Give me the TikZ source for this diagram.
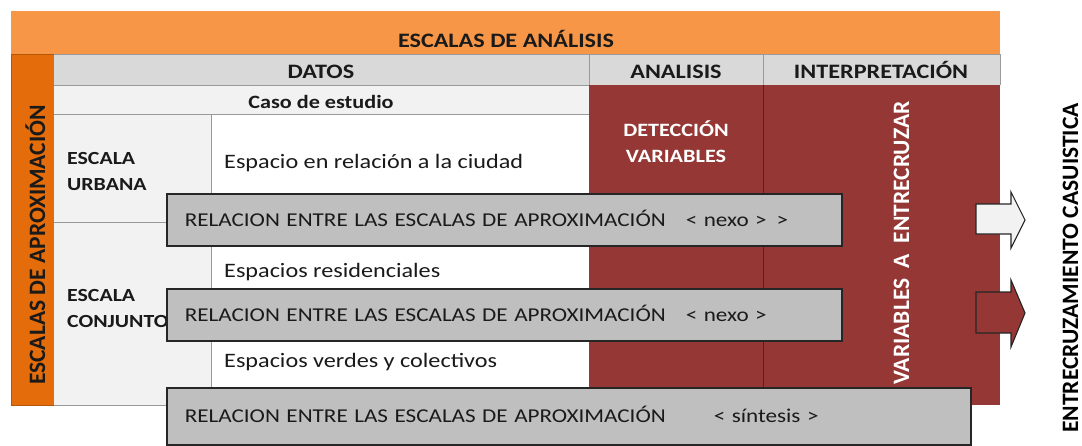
\documentclass[tikz,border=0pt]{standalone}
\usepackage{fontspec}
\setmainfont{Carlito}[FakeStretch=1.18]
\newfontfamily\vertfont{Carlito}
\definecolor{orangetop}{HTML}{F79646}
\definecolor{orangeleft}{HTML}{E46C0A}
\definecolor{orangeedge}{HTML}{B65708}
\definecolor{hdrgray}{HTML}{D9D9D9}
\definecolor{litegray}{HTML}{F2F2F2}
\definecolor{maroon}{HTML}{953735}
\definecolor{maroonline}{HTML}{5E1F1E}
\definecolor{boxgray}{HTML}{BFBFBF}
\definecolor{boxedge}{HTML}{262626}
\definecolor{gridgray}{HTML}{9A9A9A}
\definecolor{txt}{HTML}{1A1A1A}
\begin{document}
\begin{tikzpicture}[x=1pt,y=-1pt,
  cellline/.style={draw=gridgray, line width=0.8pt},
  hdr/.style={anchor=base, inner sep=0pt, text=txt, font=\fontsize{20.5}{24}\selectfont\bfseries},
  lbl/.style={anchor=base west, inner sep=0pt, text=txt, font=\fontsize{18.5}{22}\selectfont\bfseries},
  body/.style={anchor=base west, inner sep=0pt, text=txt, font=\fontsize{20.5}{24}\selectfont},
  wlbl/.style={anchor=base, inner sep=0pt, text=white, font=\fontsize{18.8}{22}\selectfont\bfseries},
  vtxt/.style={anchor=base, inner sep=0pt, rotate=90, font=\vertfont\fontsize{23.5}{28}\selectfont\bfseries},
  relbox/.style={fill=boxgray, draw=boxedge, line width=1.5pt, anchor=north west,
     inner xsep=18pt, inner ysep=0pt, text width=#1, align=left,
     text height=13pt, text depth=0pt, text=txt, font=\fontsize{19.6}{23}\selectfont},
  blockarrow/.style={draw=boxedge, line width=1.1pt, line join=miter}
]
\useasboundingbox (0,0) rectangle (1082,445);

% table backgrounds
\fill[orangetop] (11,11) rectangle (1000,54);
\fill[orangeleft] (11,54) rectangle (54,405);
\draw[orangeedge, line width=0.8pt] (11,54) rectangle (54,405);
\fill[hdrgray] (54,54) rectangle (1000,85);
\fill[litegray] (54,85) rectangle (589,114);
\fill[litegray] (54,114) rectangle (211,405);
\fill[white] (211,114) rectangle (589,405);
\fill[maroon] (589,85) rectangle (1000,405);

% grid lines
\draw[cellline] (54,54) -- (1000,54);
\draw[cellline] (54,85) -- (589,85);
\draw[cellline] (54,114) -- (589,114);
\draw[cellline] (54,222) -- (589,222);
\draw[cellline] (54,405) -- (589,405);
\draw[cellline] (211,114) -- (211,405);
\draw[cellline] (589,54) -- (589,85);
\draw[cellline] (763,54) -- (763,85);
\draw[cellline] (1000,54) -- (1000,85);
\draw[maroonline, line width=0.8pt] (763,85) -- (763,405);

% header texts
\node[hdr] (titulo) at (506,47) {ESCALAS DE ANÁLISIS};
\node[hdr] (datos) at (321,78) {DATOS};
\node[hdr] (analisis) at (676,78) {ANALISIS};
\node[hdr] (interp) at (881,78) {INTERPRETACIÓN};
\node[hdr, font=\fontsize{18.8}{22}\selectfont\bfseries] (caso) at (321,108) {Caso de estudio};

% row labels
\node[lbl] (eu1) at (67,164) {ESCALA};
\node[lbl] (eu2) at (67,190) {URBANA};
\node[lbl] (ec1) at (67,301) {ESCALA};
\node[lbl] (ec2) at (67,327) {CONJUNTO};
\node[body] (esp1) at (224,168) {Espacio en relación a la ciudad};
\node[body] (esp2) at (224,277) {Espacios residenciales};
\node[body] (esp3) at (224,367) {Espacios verdes y colectivos};

% analysis labels
\node[wlbl] (det) at (676,136) {DETECCIÓN};
\node[wlbl] (var) at (676,162) {VARIABLES};

% vertical texts
\node[vtxt, text=txt] (aprox) at (45,245) {ESCALAS DE APROXIMACIÓN};
\node[vtxt, text=white] (entre) at (909,243) {VARIABLES\ \ A\ \ ENTRECRUZAR};
\node[vtxt, text=black] (casu) at (1078,268) {ENTRECRUZAMIENTO CASUISTICA};

% relation boxes
\node[relbox=639pt, minimum height=52pt] (rel1) at (166,193)
  {RELACION ENTRE LAS ESCALAS DE APROXIMACIÓN\hspace{20pt}<~nexo~>~\,>};
\node[relbox=639pt, minimum height=52pt] (rel2) at (166,288)
  {RELACION ENTRE LAS ESCALAS DE APROXIMACIÓN\hspace{20pt}<~nexo~>};
\node[relbox=768pt, minimum height=57pt] (rel3) at (166,387)
  {RELACION ENTRE LAS ESCALAS DE APROXIMACIÓN\hspace{48pt}<~síntesis~>};

% block arrows
\draw[blockarrow, fill=litegray] (976,204) -- (1011,204) -- (1011,192) -- (1025,220)
  -- (1011,248) -- (1011,234) -- (976,234) -- cycle;
\draw[blockarrow, fill=maroon] (976,292) -- (1011,292) -- (1011,280) -- (1025,313)
  -- (1011,347) -- (1011,333) -- (976,333) -- cycle;
\end{tikzpicture}
\end{document}
